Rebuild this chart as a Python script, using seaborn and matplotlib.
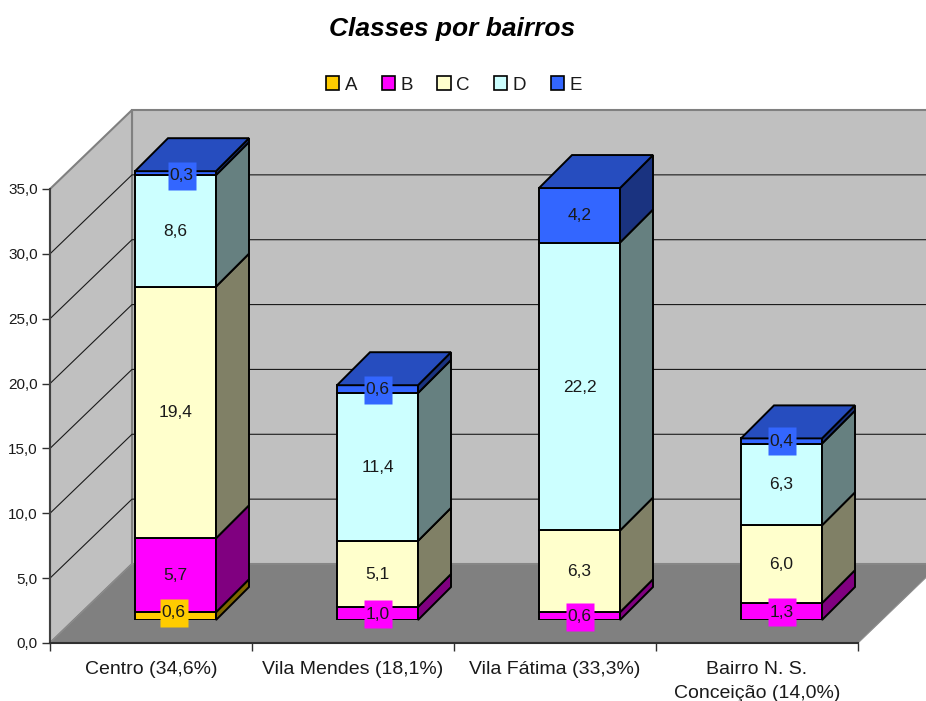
import numpy as np
import pandas as pd
import matplotlib
matplotlib.use('Agg')
import matplotlib.pyplot as plt
from matplotlib.patches import Patch
from matplotlib.transforms import ScaledTranslation
import seaborn as sns

# --- data ---
bairros = ['Centro (34,6%)', 'Vila Mendes (18,1%)', 'Vila Fátima (33,3%)', 'Bairro N. S.\nConceição (14,0%)']
classes = ['A', 'B', 'C', 'D', 'E']
classe_a = [0.6, 0.0, 0.0, 0.0]
classe_b = [5.7, 1.0, 0.6, 1.3]
classe_c = [19.4, 5.1, 6.3, 6.0]
classe_d = [8.6, 11.4, 22.2, 6.3]
classe_e = [0.3, 0.6, 4.2, 0.4]
y_ticks = [0, 5, 10, 15, 20, 25, 30, 35]

# --- style ---
cores = ['#FFCC00', '#FF00FF', '#FFFFCC', '#CCFFFF', '#3366FF']
W, H = 926, 701
left, right, base, top = 50, 858, 643, 189   # front plane, px
px_x = (right - left) / 4
px_y = (base - top) / 35
wall_dx, wall_dy = 82 / px_x, 79 / px_y
bar_dx, bar_dy = 33 / px_x, 33 / px_y
shift_x, shift_y = 24.5, 23
# labels that Excel moved away from the middle of the segment (px)
nudge = {(0, 'A'): (-2, 4), (0, 'E'): (6, -2)}

sns.set_style('white')
plt.rcParams['font.family'] = ['Liberation Sans', 'DejaVu Sans']

fig = plt.figure(figsize=(W / 100, H / 100), dpi=100)
ax = fig.add_axes([left / W, 1 - base / H, (right - left) / W, (base - top) / H])
ax.set_xlim(-0.5, 3.5)
ax.set_ylim(0, 35)

# --- walls and floor ---
x0, x1 = -0.5, 3.5
ax.fill([x0 + wall_dx, x1 + wall_dx, x1 + wall_dx, x0 + wall_dx],
        [wall_dy, wall_dy, 35 + wall_dy, 35 + wall_dy],
        fc='#C0C0C0', ec='#808080', lw=1.5, clip_on=False, zorder=1)
ax.fill([x0, x0 + wall_dx, x0 + wall_dx, x0], [0, wall_dy, 35 + wall_dy, 35],
        fc='#C0C0C0', ec='#808080', lw=1.5, clip_on=False, zorder=1)
ax.fill([x0, x1, x1 + wall_dx, x0 + wall_dx], [0, 0, wall_dy, wall_dy],
        fc='#808080', ec='#8c8c8c', lw=0.8, clip_on=False, zorder=1)
for v in y_ticks[1:-1]:
    ax.plot([x0, x0 + wall_dx, x1 + wall_dx], [v, v + wall_dy, v + wall_dy],
            color='#1a1a1a', lw=0.8, clip_on=False, zorder=2)

# --- axis ---
ax.patch.set_visible(False)
for s in ['top', 'right']:
    ax.spines[s].set_visible(False)
ax.spines['left'].set_color('#404040')
ax.spines['left'].set_linewidth(1.5)
ax.spines['bottom'].set_color('#303030')
ax.spines['bottom'].set_linewidth(1.5)
ax.set_yticks(y_ticks)
ax.set_yticklabels([f'{v:.1f}'.replace('.', ',') for v in y_ticks], fontsize=11, color='#1a1a1a')
ax.set_xticks(np.arange(-0.5, 4, 1))
ax.set_xticklabels([])
ax.set_xticks(range(4), bairros, minor=True, fontsize=14, color='#1a1a1a', linespacing=1.5)
ax.tick_params(axis='x', which='major', length=6, width=1, color='#303030', bottom=True)
ax.tick_params(axis='x', which='minor', length=0, pad=13, bottom=True)
ax.tick_params(axis='y', length=5.8, width=1, color='#303030', left=True, pad=3)

# --- bars, in an overlay shifted into the floor ---
ax2 = fig.add_axes([(left + shift_x) / W, 1 - (base - shift_y) / H, (right - left) / W, (base - top) / H])
df = pd.DataFrame({'bairro': bairros, 'A': classe_a, 'B': classe_b, 'C': classe_c, 'D': classe_d, 'E': classe_e})
bottom = np.zeros(len(bairros))
total = df[classes].sum(axis=1).values
largura = 81 / px_x
lw_barra = 1.4
for c, cor in zip(classes, cores):
    vals = df[c].values
    sns.barplot(data=df, x='bairro', y=c, bottom=bottom, color=cor, saturation=1, width=largura,
                edgecolor='black', linewidth=lw_barra, errorbar=None, ax=ax2, zorder=3)
    lado = tuple(v * 0.5 for v in matplotlib.colors.to_rgb(cor))
    topo = tuple(v * 0.75 for v in matplotlib.colors.to_rgb(cor))
    for i, v in enumerate(vals):
        if v == 0:
            continue
        xa = i - largura / 2
        xb = i + largura / 2
        b = bottom[i]
        t = b + v
        ax2.fill([xb, xb + bar_dx, xb + bar_dx, xb], [b, b + bar_dy, t + bar_dy, t],
                 fc=lado, ec='black', lw=lw_barra, clip_on=False, zorder=3)
        if abs(t - total[i]) < 1e-6:
            ax2.fill([xa, xa + bar_dx, xb + bar_dx, xb], [t, t + bar_dy, t + bar_dy, t],
                     fc=topo, ec='black', lw=lw_barra, clip_on=False, zorder=3)
        dx, dy = nudge.get((i, c), (0, 0))
        desloc = ScaledTranslation(dx / 100, (dy - 0.5) / 100, fig.dpi_scale_trans)
        # the label background is a fixed 28x29 px square
        ax2.plot([i], [b + v / 2], marker='s', ms=20.5, mfc=cor, mec='none', clip_on=False, zorder=5,
                 transform=ax2.transData + desloc)
        ax2.text(i, b + v / 2, f'{v:.1f}'.replace('.', ','), ha='center', va='center', fontsize=12.5,
                 color='#1a1a1a', clip_on=False, zorder=6, transform=ax2.transData + desloc)
    bottom = bottom + vals
ax2.set_xlim(-0.5, 3.5)
ax2.set_ylim(0, 35)
ax2.axis('off')

# --- title, legend ---
fig.text(452 / W, 1 - 29 / H, 'Classes por bairros', ha='center', va='center',
         fontsize=19, fontweight='bold', fontstyle='italic', color='black')
handles = [Patch(fc=c, ec='black', lw=1.2) for c in cores]
fig.legend(handles, classes, loc='center', bbox_to_anchor=(454 / W, 1 - 85 / H), ncol=5, frameon=False,
           fontsize=13.5, handlelength=0.7, handleheight=0.7, handletextpad=0.3, columnspacing=1.3,
           labelcolor='#1a1a1a')

fig.savefig('out.png', dpi=100)
